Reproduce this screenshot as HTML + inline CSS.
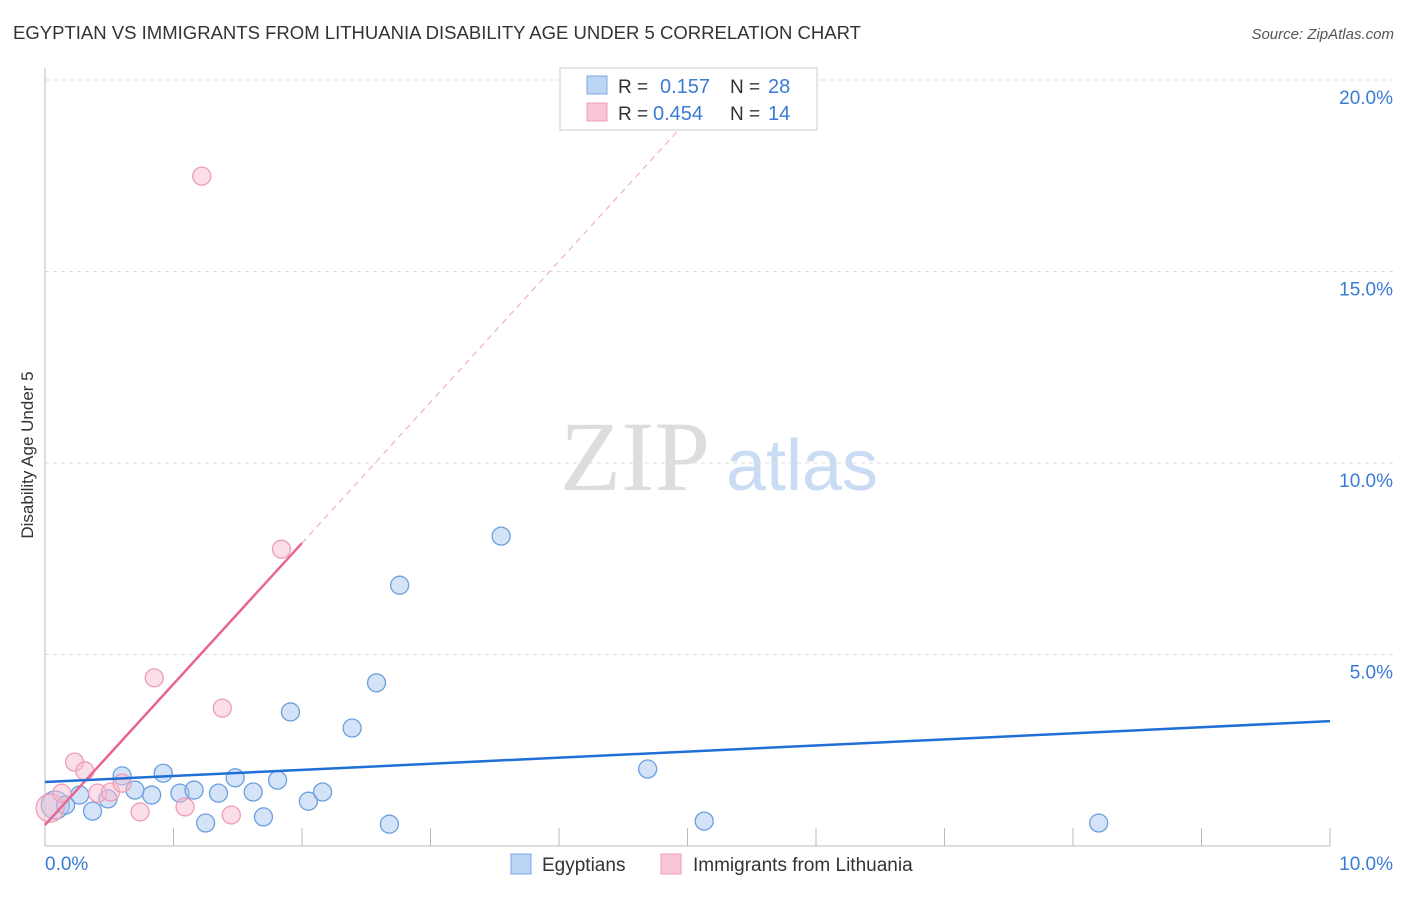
<!DOCTYPE html>
<html><head><meta charset="utf-8"><style>
body{margin:0;background:#fff;font-family:"Liberation Sans",sans-serif}
</style></head><body>
<svg id="chart" width="1406" height="892" xmlns="http://www.w3.org/2000/svg" font-family="Liberation Sans, sans-serif">
<text x="13" y="39" font-size="18" fill="#333" textLength="848" lengthAdjust="spacingAndGlyphs">EGYPTIAN VS IMMIGRANTS FROM LITHUANIA DISABILITY AGE UNDER 5 CORRELATION CHART</text>
<text x="1394" y="39" font-size="15" fill="#555" font-style="italic" text-anchor="end">Source: ZipAtlas.com</text>
<text transform="translate(33,455) rotate(-90)" font-size="17" fill="#333" text-anchor="middle">Disability Age Under 5</text>
<g>
<text x="635" y="490" font-size="100" fill="#ddd" font-family="Liberation Serif, serif" text-anchor="middle">ZIP</text>
<text x="802" y="490" font-size="72" fill="#c9dcf3" text-anchor="middle">atlas</text>
</g>
<g id="grid"></g><g id="axes"></g><g id="marks"></g>
<g>
<rect x="560" y="68" width="257" height="62" fill="#fff" stroke="#ccc"/>
<rect x="587" y="76" width="20" height="18" fill="#bcd5f5" stroke="#7aa8e6"/>
<rect x="587" y="103" width="20" height="18" fill="#f9c6d6" stroke="#ee9db6"/>
<text x="618" y="93" font-size="19" fill="#333">R = </text><text x="660" y="93" font-size="20" fill="#3a7bd5">0.157</text>
<text x="730" y="93" font-size="19" fill="#333">N = </text><text x="768" y="93" font-size="20" fill="#3a7bd5">28</text>
<text x="618" y="120" font-size="19" fill="#333">R = </text><text x="653" y="120" font-size="20" fill="#3a7bd5">0.454</text>
<text x="730" y="120" font-size="19" fill="#333">N = </text><text x="768" y="120" font-size="20" fill="#3a7bd5">14</text>
</g>
<g>
<rect x="511" y="854" width="20" height="20" fill="#bcd5f5" stroke="#7aa8e6"/>
<text x="542" y="871" font-size="19" fill="#333">Egyptians</text>
<rect x="661" y="854" width="20" height="20" fill="#f9c6d6" stroke="#ee9db6"/>
<text x="693" y="871" font-size="19" fill="#333">Immigrants from Lithuania</text>
</g>
</svg>
<script>
const xTicks=[0,1,2,3,4,5,6,7,8,9,10];
const yTicks=[5,10,15,20];
const yTickLabels=["5.0%","10.0%","15.0%","20.0%"];
const xTickLabels=["0.0%","10.0%"];
const egyX=[0.08,0.16,0.27,0.37,0.49,0.60,0.70,0.83,0.92,1.05,1.16,1.25,1.35,1.48,1.62,1.70,1.81,1.91,2.05,2.16,2.39,2.58,2.68,2.76,3.55,4.69,5.13,8.20];
const egyY=[1.07,1.07,1.33,0.91,1.23,1.83,1.46,1.33,1.90,1.38,1.46,0.60,1.38,1.78,1.41,0.76,1.72,3.50,1.17,1.41,3.08,4.26,0.57,6.81,8.09,2.01,0.65,0.60];
const litX=[0.04,0.13,0.23,0.31,0.41,0.51,0.60,0.74,0.85,1.09,1.22,1.38,1.45,1.84];
const litY=[0.99,1.38,2.19,1.96,1.38,1.41,1.64,0.89,4.39,1.02,17.49,3.60,0.81,7.75];
const egyTrend=[1.67,3.26];
const litTrend=[0.55,7.91];
const xs=v=>45+v*128.5, ys=v=>846-v*38.3;
const NS="http://www.w3.org/2000/svg";
function mk(parent,tag,attrs){const e=document.createElementNS(NS,tag);for(const k in attrs)e.setAttribute(k,attrs[k]);document.getElementById(parent).appendChild(e);return e;}
yTicks.forEach((t,i)=>{
 const g=mk('grid','line',{x1:45,x2:1394,y1:ys(t),y2:ys(t),stroke:'#ddd','stroke-dasharray':'4,4'});
 
 
 const l=mk('grid','text',{x:1393,y:ys(t)+24,'font-size':19,fill:'#3a7bd5','text-anchor':'end'});l.textContent=yTickLabels[i];
 
 
});
const ax=mk('axes','path',{d:'M45 68V846H1330',stroke:'#bbb',fill:'none'});


xTicks.forEach(t=>{const k=mk('axes','line',{x1:xs(t),x2:xs(t),y1:828,y2:846,stroke:'#bbb'});
 
 });
[[0,45,'start'],[10,1393,'end']].forEach((a,i)=>{const l=mk('axes','text',{x:a[1],y:870,'font-size':19,fill:'#3a7bd5','text-anchor':a[2]});l.textContent=xTickLabels[i];
 
 });
egyX.forEach((x,i)=>{const c=mk('marks','circle',{cx:xs(x),cy:ys(egyY[i]),r:i==0?14:9,fill:'rgba(170,200,240,0.5)',stroke:'#6a9fe0','stroke-width':1.3});
 
 });
litX.forEach((x,i)=>{const c=mk('marks','circle',{cx:xs(x),cy:ys(litY[i]),r:i==0?14:9,fill:'rgba(248,190,208,0.5)',stroke:'#ee9db6','stroke-width':1.3});
 
 });
const slope=(litTrend[1]-litTrend[0])/2;
const xEnd=(20-litTrend[0])/slope;
const d=mk('marks','line',{x1:xs(2),y1:ys(litTrend[1]),x2:xs(xEnd),y2:ys(20),stroke:'#f0b0c4','stroke-dasharray':'6,5','stroke-width':1.2});


const lt=mk('marks','line',{x1:xs(0),y1:ys(litTrend[0]),x2:xs(2),y2:ys(litTrend[1]),stroke:'#e8658f','stroke-width':2.5});


const et=mk('marks','line',{x1:xs(0),y1:ys(egyTrend[0]),x2:xs(10),y2:ys(egyTrend[1]),stroke:'#1f6fd6','stroke-width':2.5});


</script>
</body></html>
